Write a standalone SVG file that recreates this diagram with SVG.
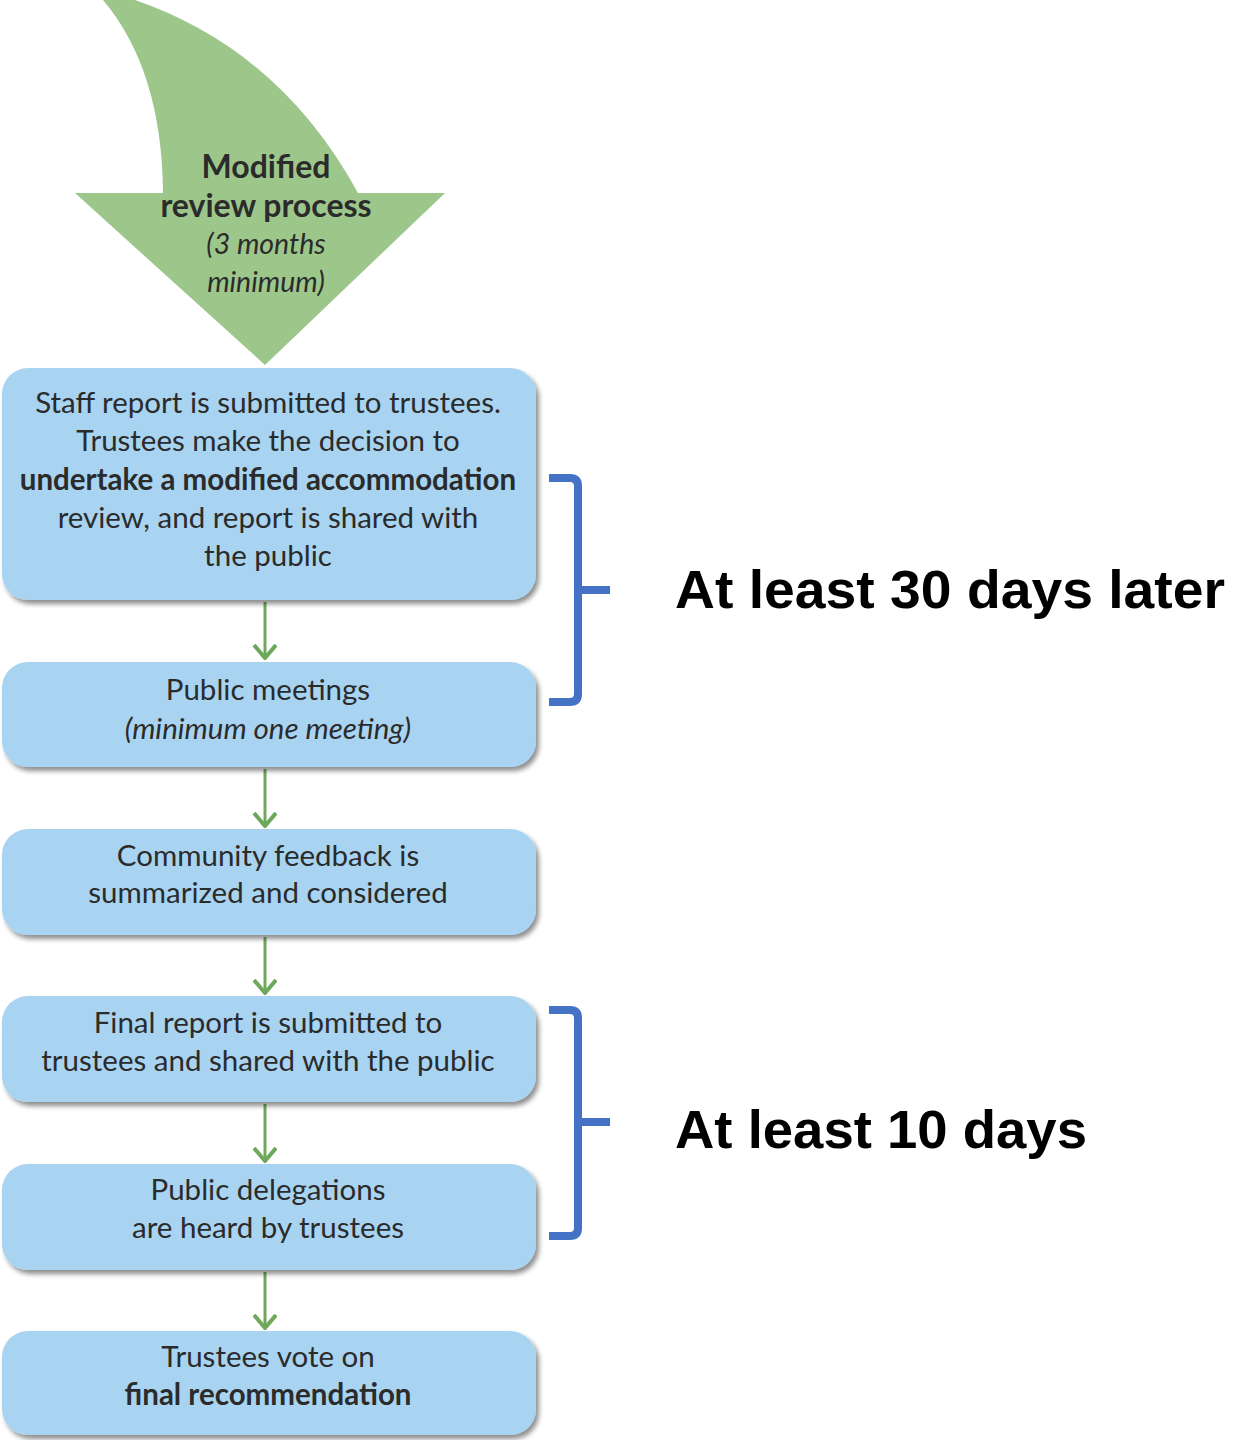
<svg xmlns="http://www.w3.org/2000/svg" width="1238" height="1440" viewBox="0 0 1238 1440">
<style>
.box{fill:#a8d4f2;filter:url(#sh)}
.t{font-family:Lato,"Open Sans","Liberation Sans",sans-serif;font-size:29.5px;fill:#2b2b2b;text-anchor:middle}
.b{font-weight:bold}
.i{font-style:italic}
.conn{stroke:#6ea85a;stroke-width:3;fill:none;marker-end:url(#ah)}
.br{stroke:#4472c4;stroke-width:8;fill:none}
.lab{font-family:"Liberation Sans",Arial,sans-serif;font-weight:bold;font-size:53px;fill:#000}
</style>
<defs>
<filter id="sh" x="-5%" y="-10%" width="115%" height="130%">
<feGaussianBlur in="SourceAlpha" stdDeviation="2.5"/>
<feOffset dx="3" dy="4" result="o"/>
<feComponentTransfer><feFuncA type="linear" slope="0.45"/></feComponentTransfer>
<feMerge><feMergeNode/><feMergeNode in="SourceGraphic"/></feMerge>
</filter>
<marker id="ah" viewBox="0 0 16 24" refX="14" refY="12" markerWidth="16" markerHeight="24" markerUnits="userSpaceOnUse" orient="auto">
<path d="M1,1 L14,12 L1,23" fill="none" stroke="#6ea85a" stroke-width="4"/>
</marker>
</defs>
<rect width="1238" height="1440" fill="#fff"/>

<g id="start">
<path d="M103,0 L135,0 Q280,50 358,193 L445,193 L265,365 L75,193 L163,193 Q162,70 103,0 Z" fill="#9dc68b"/>
<text class="t b" x="266" y="178" style="font-size:32px">Modified</text>
<text class="t b" x="266" y="217" style="font-size:32px">review process</text>
<text class="t i" x="266" y="254" style="font-size:28.5px">(3 months</text>
<text class="t i" x="266" y="292" style="font-size:28.5px">minimum)</text>
</g>

<g id="connectors">
<line class="conn" x1="265" y1="602" x2="265" y2="658"/>
<line class="conn" x1="265" y1="769" x2="265" y2="826"/>
<line class="conn" x1="265" y1="937" x2="265" y2="993"/>
<line class="conn" x1="265" y1="1104" x2="265" y2="1161"/>
<line class="conn" x1="265" y1="1272" x2="265" y2="1328"/>
</g>

<g id="n1">
<rect class="box" x="2" y="368" width="534" height="232" rx="26"/>
<text class="t" x="268" y="413">Staff report is submitted to trustees.</text>
<text class="t" x="268" y="451">Trustees make the decision to</text>
<text class="t b" x="268" y="490">undertake a modified accommodation</text>
<text class="t" x="268" y="528">review, and report is shared with</text>
<text class="t" x="268" y="566">the public</text>
</g>

<g id="n2">
<rect class="box" x="2" y="662" width="534" height="105" rx="26"/>
<text class="t" x="268" y="700">Public meetings</text>
<text class="t i" x="268" y="739">(minimum one meeting)</text>
</g>

<g id="n3">
<rect class="box" x="2" y="829" width="534" height="106" rx="26"/>
<text class="t" x="268" y="866">Community feedback is</text>
<text class="t" x="268" y="903">summarized and considered</text>
</g>

<g id="n4">
<rect class="box" x="2" y="996" width="534" height="106" rx="26"/>
<text class="t" x="268" y="1033">Final report is submitted to</text>
<text class="t" x="268" y="1071">trustees and shared with the public</text>
</g>

<g id="n5">
<rect class="box" x="2" y="1164" width="534" height="106" rx="26"/>
<text class="t" x="268" y="1200">Public delegations</text>
<text class="t" x="268" y="1238">are heard by trustees</text>
</g>

<g id="n6">
<rect class="box" x="2" y="1331" width="534" height="104" rx="26"/>
<text class="t" x="268" y="1367">Trustees vote on</text>
<text class="t b" x="268" y="1405">final recommendation</text>
</g>

<g id="brace1">
<path class="br" d="M549,478 L570,478 Q578,478 578,486 L578,694 Q578,702 570,702 L549,702"/>
<line class="br" x1="578" y1="590" x2="610" y2="590"/>
<text class="lab" x="675" y="608" textLength="550" lengthAdjust="spacingAndGlyphs">At least 30 days later</text>
</g>

<g id="brace2">
<path class="br" d="M549,1010 L570,1010 Q578,1010 578,1018 L578,1228 Q578,1236 570,1236 L549,1236"/>
<line class="br" x1="578" y1="1122" x2="610" y2="1122"/>
<text class="lab" x="675" y="1148" textLength="412" lengthAdjust="spacingAndGlyphs">At least 10 days</text>
</g>
</svg>
